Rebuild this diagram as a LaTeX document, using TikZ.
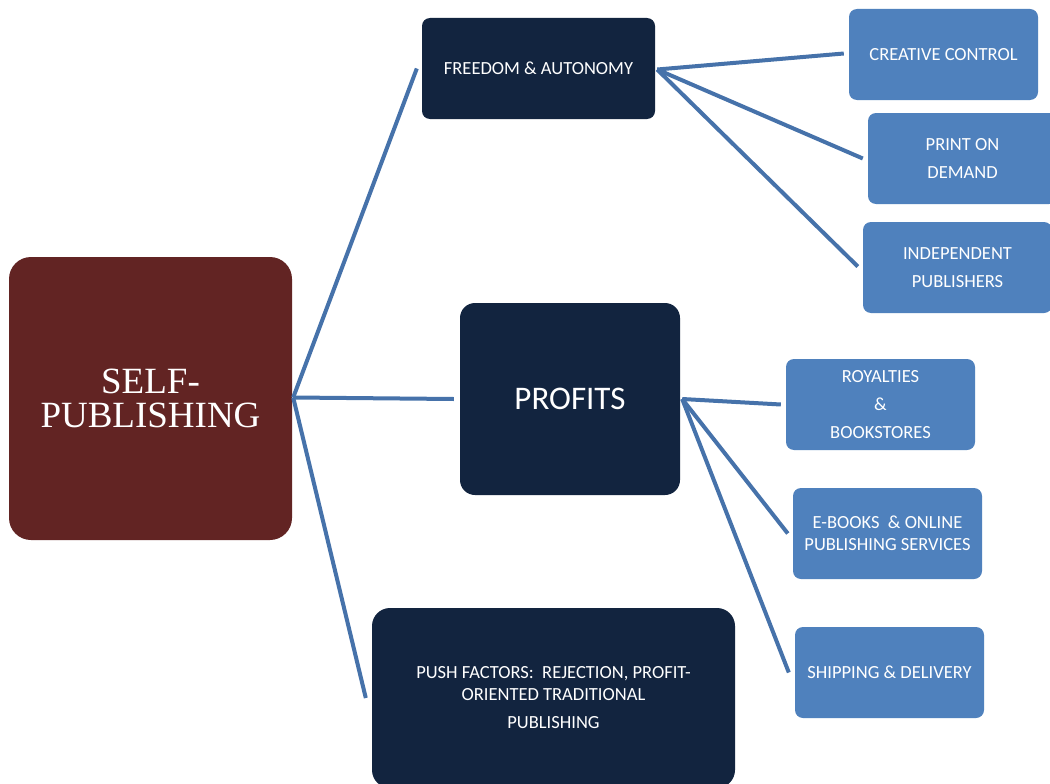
\documentclass[tikz,border=0pt]{standalone}
\usepackage{fontspec}
\setmainfont{Carlito}
\newfontfamily\titleserif{Liberation Serif}
\usetikzlibrary{calc}
\definecolor{navy}{HTML}{12243F}
\definecolor{maroon}{HTML}{622423}
\definecolor{paleblue}{HTML}{4F81BD}
\definecolor{linkblue}{HTML}{4672AA}
\tikzset{
  darkbox/.style={fill=navy, rounded corners=8pt, text=white, align=center, inner sep=0pt},
  lightbox/.style={fill=paleblue, rounded corners=8pt, text=white, align=center, inner sep=0pt,
    minimum width=189pt, minimum height=91pt, font=\fontsize{18.5}{22}\selectfont},
  link/.style={draw=linkblue, line width=4pt},
  plain/.style={font=\fontsize{18.5}{22}\selectfont}
}
\begin{document}
\begin{tikzpicture}[x=1pt,y=-1pt]
  \clip (0,0) rectangle (1050,784);
  \fill[white] (0,0) rectangle (1050,784);

  % central topic
  \node[fill=maroon, rounded corners=22pt, text=white, align=center, inner sep=0pt,
        minimum width=283pt, minimum height=283pt,
        font=\titleserif\fontsize{37}{34}\selectfont] (self) at (150.5,398.5) {SELF-\\PUBLISHING};

  % main branches
  \node[darkbox, plain, minimum width=233pt, minimum height=101pt] (freedom) at (538.5,68.5) {FREEDOM \& AUTONOMY};
  \node[darkbox, rounded corners=15pt, minimum width=220pt, minimum height=192pt,
        font=\fontsize{33}{36}\selectfont] (profits) at (570,399) {PROFITS};
  \node[darkbox, plain, rounded corners=18pt, minimum width=363pt, minimum height=180pt] (push) at (553.5,698)
        {PUSH FACTORS:\ \ REJECTION, PROFIT-\\ORIENTED TRADITIONAL\\[6pt]PUBLISHING};

  % leaves of freedom
  \node[lightbox] (creative) at (943.5,54.5) {CREATIVE CONTROL};
  \node[lightbox] (print) at (962.5,158.5) {PRINT ON\\[6pt]DEMAND};
  \node[lightbox] (indep) at (957.5,267.5) {INDEPENDENT\\[6pt]PUBLISHERS};

  % leaves of profits
  \node[lightbox] (royal) at (880.5,404.5) {ROYALTIES\\[6pt]\&\\[6pt]BOOKSTORES};
  \node[lightbox] (ebooks) at (887.5,533.5) {E-BOOKS\ \ \& ONLINE\\PUBLISHING SERVICES};
  \node[lightbox] (ship) at (889.5,672.5) {SHIPPING \& DELIVERY};

  % connectors
  \coordinate (hub) at ($(self.east)+(1,-1)$);
  \draw[link] (hub) -- ($(freedom.west)+(-5,0)$);
  \draw[link] (hub) -- ($(profits.west)+(-6,0)$);
  \draw[link] (hub) -- ($(push.west)+(-6,0)$);

  \coordinate (fhub) at ($(freedom.east)+(2,1)$);
  \draw[link] (fhub) -- ($(creative.west)+(-5,-1)$);
  \draw[link] (fhub) -- ($(print.west)+(-5,0)$);
  \draw[link] (fhub) -- ($(indep.west)+(-5,-1)$);

  \coordinate (phub) at ($(profits.east)+(2,0)$);
  \draw[link] (phub) -- ($(royal.west)+(-5,0)$);
  \draw[link] (phub) -- ($(ebooks.west)+(-5,0)$);
  \draw[link] (phub) -- ($(ship.west)+(-6,0)$);
\end{tikzpicture}
\end{document}
